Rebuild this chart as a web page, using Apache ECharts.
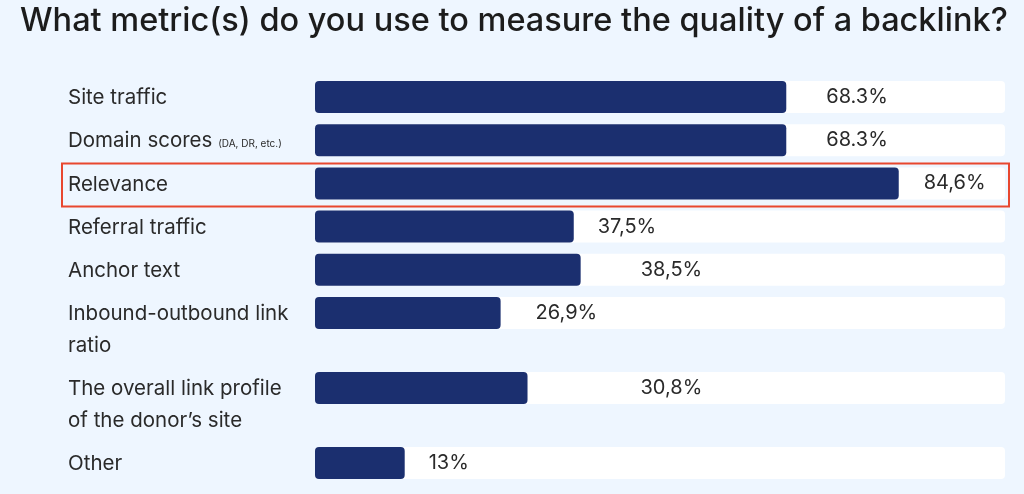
<!DOCTYPE html>
<html>
<head>
<meta charset="utf-8">
<script src="https://cdn.jsdelivr.net/npm/echarts@6/dist/echarts.min.js"></script>
<style>
  html, body { margin: 0; padding: 0; background: #eef6ff; }
  #chart { width: 1024px; height: 494px; }
</style>
</head>
<body>
<div id="chart"></div>
<script>
// survey answers, top to bottom
var categories = [
  'Site traffic',
  'Domain scores',
  'Relevance',
  'Referral traffic',
  'Anchor text',
  'Inbound-outbound link\nratio',
  'The overall link profile\nof the donor\u2019s site',
  'Other'
];
var shares = [68.3, 68.3, 84.6, 37.5, 38.5, 26.9, 30.8, 13];
var shareLabels = ['68.3%', '68.3%', '84,6%', '37,5%', '38,5%', '26,9%', '30,8%', '13%'];
var highlighted = 'Relevance';

// layout
var firstTop = 81;
var oneLineStep = 43.2;
var twoLineStep = 75;
var barHeight = 32;
var labelGaps = [40, 40, 25, 24, 60, 35, 113, 24];
var navy = '#1b2f6f';
var textColor = '#2a2a2a';
var font = 'Inter';

var chart = echarts.init(document.getElementById('chart'));

var tops = [];
var y = firstTop;
categories.forEach(function (c) {
  tops.push(y);
  y += c.indexOf('\n') >= 0 ? twoLineStep : oneLineStep;
});

var grids = [], xAxes = [], yAxes = [], series = [];
categories.forEach(function (c, i) {
  grids.push({ left: 315, width: 690, top: tops[i], height: barHeight });
  xAxes.push({
    gridIndex: i, type: 'value', min: 0, max: 100, show: false
  });
  yAxes.push({
    gridIndex: i, type: 'category', data: [c],
    axisLine: { show: false }, axisTick: { show: false },
    axisLabel: {
      margin: 247,
      align: 'left',
      verticalAlign: 'top',
      padding: [-15, 0, 0, 0],
      lineHeight: 32,
      fontFamily: font,
      fontSize: 20.5,
      color: textColor,
      formatter: function (v) {
        if (v === 'Domain scores') return 'Domain scores {s|(DA, DR, etc.)}';
        return v;
      },
      rich: {
        s: { fontFamily: font, fontSize: 10, color: textColor, lineHeight: 14, padding: [6, 0, 0, 0], verticalAlign: 'middle' }
      }
    }
  });
  series.push({
    type: 'bar',
    xAxisIndex: i, yAxisIndex: i,
    barWidth: '100%',
    data: [shares[i]],
    itemStyle: { color: navy, borderRadius: 4 },
    showBackground: true,
    backgroundStyle: { color: '#ffffff', borderRadius: 4 },
    label: {
      show: true,
      position: 'right',
      distance: labelGaps[i],
      fontFamily: font,
      fontSize: 20,
      color: textColor,
      formatter: shareLabels[i]
    },
    silent: true
  });
});

var hi = categories.indexOf(highlighted);

chart.setOption({
  animation: false,
  backgroundColor: '#eef6ff',
  title: {
    text: 'What metric(s) do you use to measure the quality of a backlink?',
    left: 15, top: 0,
    textStyle: { fontFamily: font, fontSize: 32.5, fontWeight: 500, color: '#1c1c1c' }
  },
  grid: grids,
  xAxis: xAxes,
  yAxis: yAxes,
  series: series,
  graphic: [{
    type: 'rect',
    shape: { x: 62, y: tops[hi] - 4, width: 947, height: 43 },
    style: { fill: 'none', stroke: '#e8472f', lineWidth: 2 },
    z: 10
  }]
});
</script>
</body>
</html>
